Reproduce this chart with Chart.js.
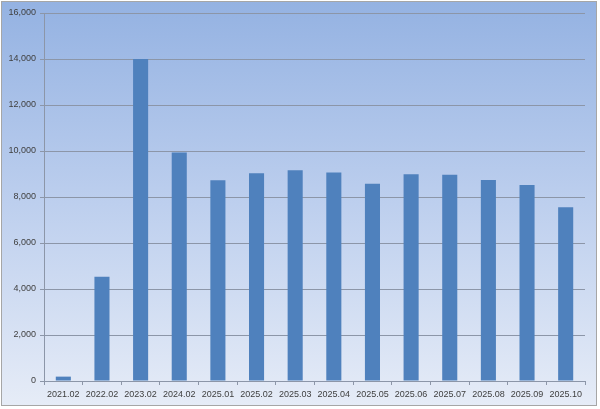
<!DOCTYPE html>
<html>
<head>
<meta charset="utf-8">
<script src="https://cdn.jsdelivr.net/npm/chart.js@4/dist/chart.umd.min.js"></script>
<style>
  html, body { margin: 0; padding: 0; background: #fff; }
  #wrap { width: 600px; height: 409px; position: relative; }
</style>
</head>
<body>
<div id="wrap"><canvas id="miGrafico" width="600" height="409"></canvas></div>
<script>
// Datos
var categorias = ['2021.02', '2022.02', '2023.02', '2024.02', '2025.01', '2025.02', '2025.03',
                  '2025.04', '2025.05', '2025.06', '2025.07', '2025.08', '2025.09', '2025.10'];
var valores = [190, 4530, 14000, 9930, 8730, 9030, 9160, 9060, 8580, 8990, 8970, 8740, 8520, 7550];
var yMin = 0;
var yMax = 16000;
var yPaso = 2000;

var ctx = document.getElementById('miGrafico').getContext('2d');

// Fondo degradado con marco
var fondo = {
    id: 'fondo',
    beforeDraw: function (chart) {
        var c = chart.ctx;
        c.save();
        c.fillStyle = '#ffffff';
        c.fillRect(0, 0, chart.width, chart.height);
        var g = c.createLinearGradient(0, 1, 0, 406);
        g.addColorStop(0, '#94b2e2');
        g.addColorStop(0.5, '#bdcfee');
        g.addColorStop(1, '#e6ecf7');
        c.fillStyle = g;
        c.fillRect(1, 1, 596, 405);
        c.strokeStyle = '#a6a6a6';
        c.lineWidth = 1;
        c.strokeRect(1.5, 1.5, 595, 404);
        c.restore();
    }
};

var data = {
    labels: categorias,
    datasets: [{
        data: valores,
        backgroundColor: '#4f81bd',
        borderWidth: 0,
        categoryPercentage: 1,
        barPercentage: 0.39
    }]
};

var options = {
    responsive: false,
    animation: false,
    layout: { padding: { top: 13, right: 15, bottom: 0, left: 0 } },
    plugins: {
        legend: { display: false },
        tooltip: { enabled: false }
    },
    scales: {
        x: {
            grid: {
                display: true,
                drawOnChartArea: false,
                tickLength: 4,
                color: '#8c96a8'
            },
            border: { color: '#8c96a8' },
            ticks: {
                color: '#404040',
                font: { family: 'Liberation Sans', size: 9 },
                padding: 4,
                maxRotation: 0,
                autoSkip: false
            },
            afterFit: function (s) { s.height = 28; }
        },
        y: {
            min: yMin,
            max: yMax,
            grid: {
                color: '#8c96a8',
                tickLength: 4
            },
            border: { color: '#8c96a8' },
            ticks: {
                stepSize: yPaso,
                color: '#404040',
                font: { family: 'Liberation Sans', size: 9 },
                padding: 4,
                callback: function (v) { return v.toLocaleString('en-US'); }
            },
            afterFit: function (s) { s.width = 44; }
        }
    }
};

var miGrafico = new Chart(ctx, {
    type: 'bar',
    data: data,
    options: options,
    plugins: [fondo]
});
</script>
</body>
</html>
